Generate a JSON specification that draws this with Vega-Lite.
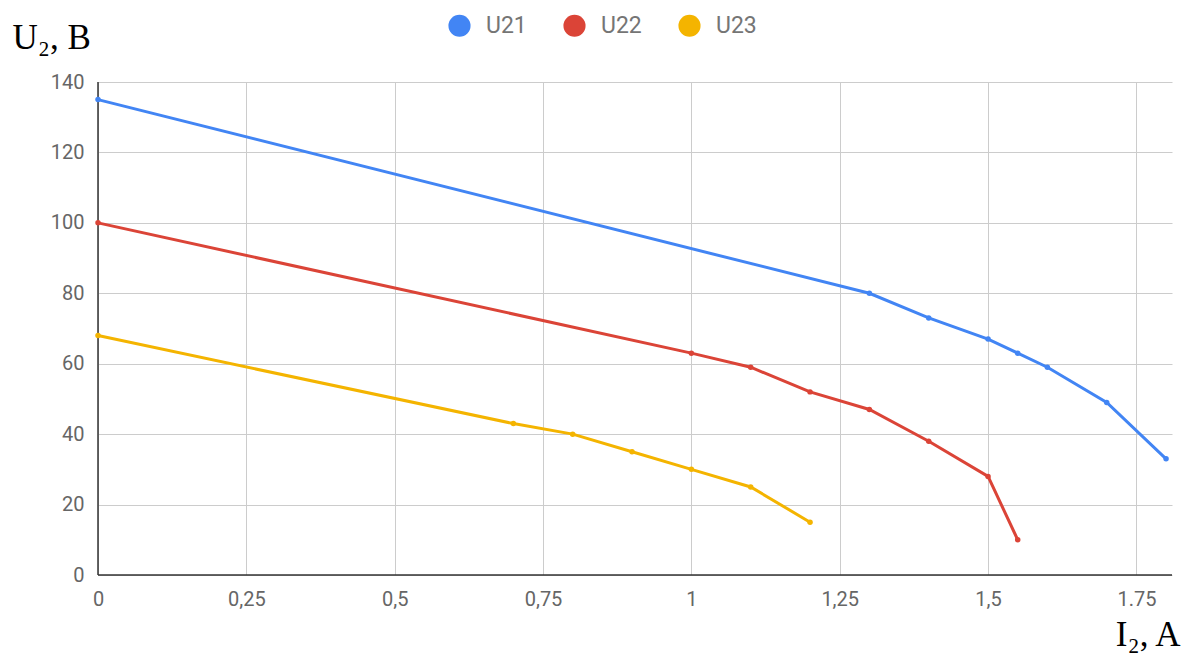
{
  "$schema": "https://vega.github.io/schema/vega-lite/v6.json",
  "width": 1074,
  "height": 493,
  "autosize": {"type": "none"},
  "padding": {"left": 98, "top": 82, "right": 9, "bottom": 78},
  "background": "white",
  "config": {
    "view": {"stroke": null},
    "axis": {"labelFont": "Roboto", "labelColor": "#666666", "labelFontSize": 20, "gridColor": "#cccccc", "gridWidth": 1, "tickSize": 0, "domain": false}
  },
  "data": {"values": [
    {"s": "U21", "i": 0, "u": 135},
    {"s": "U21", "i": 1.3, "u": 80},
    {"s": "U21", "i": 1.4, "u": 73},
    {"s": "U21", "i": 1.5, "u": 67},
    {"s": "U21", "i": 1.55, "u": 63},
    {"s": "U21", "i": 1.6, "u": 59},
    {"s": "U21", "i": 1.7, "u": 49},
    {"s": "U21", "i": 1.8, "u": 33},
    {"s": "U22", "i": 0, "u": 100},
    {"s": "U22", "i": 1, "u": 63},
    {"s": "U22", "i": 1.1, "u": 59},
    {"s": "U22", "i": 1.2, "u": 52},
    {"s": "U22", "i": 1.3, "u": 47},
    {"s": "U22", "i": 1.4, "u": 38},
    {"s": "U22", "i": 1.5, "u": 28},
    {"s": "U22", "i": 1.55, "u": 10},
    {"s": "U23", "i": 0, "u": 68},
    {"s": "U23", "i": 0.7, "u": 43},
    {"s": "U23", "i": 0.8, "u": 40},
    {"s": "U23", "i": 0.9, "u": 35},
    {"s": "U23", "i": 1, "u": 30},
    {"s": "U23", "i": 1.1, "u": 25},
    {"s": "U23", "i": 1.2, "u": 15}
  ]},
  "layer": [
    {
      "mark": {"type": "rule", "color": "#333333", "strokeWidth": 1.5},
      "data": {"values": [{"x": 0}]},
      "encoding": {"x": {"field": "x", "type": "quantitative", "scale": {"domain": [0, 1.81]}}}
    },
    {
      "mark": {"type": "rule", "color": "#333333", "strokeWidth": 1.5},
      "data": {"values": [{"y": 0}]},
      "encoding": {"y": {"field": "y", "type": "quantitative", "scale": {"domain": [0, 140]}}}
    },
    {
      "mark": {"type": "line", "strokeWidth": 3, "point": {"filled": true, "size": 30}},
      "encoding": {
        "x": {"field": "i", "type": "quantitative", "scale": {"domain": [0, 1.81], "nice": false},
          "axis": {"values": [0, 0.25, 0.5, 0.75, 1, 1.25, 1.5, 1.75], "labelExpr": "datum.value == 1.75 ? '1.75' : replace(toString(datum.value), '.', ',')", "labelPadding": 14, "labelFlush": false,
            "title": "I₂, A", "titleFont": "Liberation Serif", "titleFontSize": 35, "titleFontWeight": "normal", "titleColor": "#000000", "titleAnchor": "end", "titleAlign": "right", "titleX": 1082, "titleY": 70, "titleBaseline": "alphabetic"}},
        "y": {"field": "u", "type": "quantitative", "scale": {"domain": [0, 140], "nice": false},
          "axis": {"values": [0, 20, 40, 60, 80, 100, 120, 140], "labelPadding": 14, "labelFlush": false,
            "title": "U₂, B", "titleFont": "Liberation Serif", "titleFontSize": 35, "titleFontWeight": "normal", "titleColor": "#000000", "titleAngle": 0, "titleAlign": "left", "titleX": -86, "titleY": -34, "titleBaseline": "alphabetic"}},
        "color": {"field": "s", "type": "nominal",
          "scale": {"domain": ["U21", "U22", "U23"], "range": ["#4285F4", "#DB4437", "#F4B400"]},
          "legend": {"title": null, "orient": "none", "direction": "horizontal", "legendX": 350, "legendY": -68, "symbolType": "circle", "symbolSize": 490, "symbolStrokeWidth": 0, "labelFont": "Roboto", "labelFontSize": 23, "labelColor": "#757575", "columnPadding": 36, "labelOffset": 15}},
        "detail": {"field": "s"}
      }
    }
  ]
}
